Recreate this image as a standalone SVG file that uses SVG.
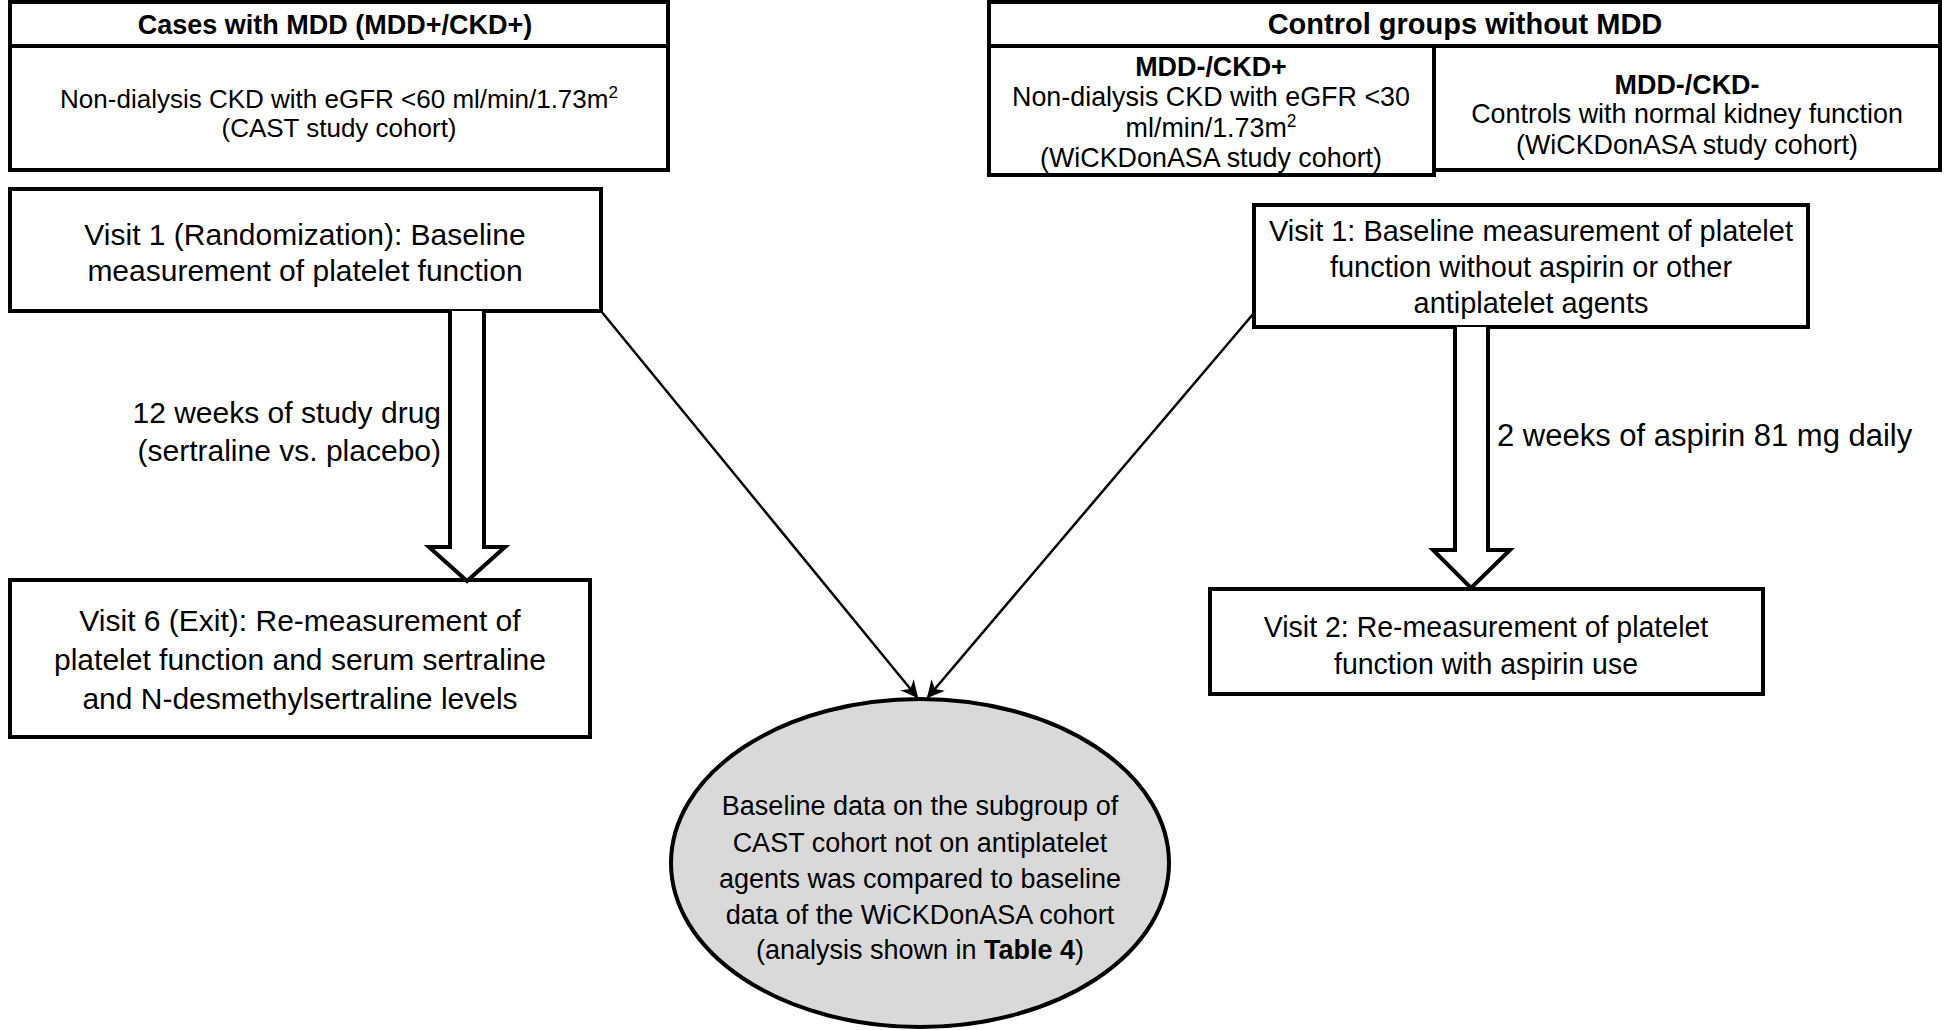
<svg xmlns="http://www.w3.org/2000/svg" width="1950" height="1030" viewBox="0 0 1950 1030">
<defs>
<style>
.box{fill:#fff;stroke:#000;stroke-width:4}
.t{font-family:"Liberation Sans",Arial,sans-serif;fill:#000;text-anchor:middle}
.hd{font-weight:bold}
.b{font-weight:bold}
.conn{stroke:#000;stroke-width:2.5;fill:none}
.dbl{fill:#fff;stroke:#000;stroke-width:4;stroke-linejoin:miter}
</style>
<marker id="ah" viewBox="0 0 10 10" refX="9" refY="5" markerWidth="7" markerHeight="7" markerUnits="strokeWidth" orient="auto">
<path d="M0,0 L10,5 L0,10 L3,5 z" fill="#000"/>
</marker>
</defs>
<rect width="1950" height="1030" fill="#fff"/>

<g id="cases">
<rect class="box" x="10" y="2" width="658" height="168"/>
<line x1="10" y1="46" x2="668" y2="46" stroke="#000" stroke-width="4"/>
<text class="t hd" x="335" y="34" font-size="27">Cases with MDD (MDD+/CKD+)</text>
<text class="t" x="339" y="108" font-size="26">Non-dialysis CKD with eGFR &lt;60 ml/min/1.73m<tspan font-size="17" dy="-10">2</tspan></text>
<text class="t" x="339" y="137" font-size="26">(CAST study cohort)</text>
</g>

<g id="controls">
<rect class="box" x="989" y="2" width="951" height="44"/>
<text class="t hd" x="1465" y="34" font-size="29">Control groups without MDD</text>
</g>

<g id="mdd-ckd-plus">
<rect class="box" x="989" y="46" width="445" height="129"/>
<g transform="translate(1211,0) scale(0.96,1)">
<text class="t b" x="0" y="76" font-size="28">MDD-/CKD+</text>
<text class="t" x="0" y="106" font-size="28">Non-dialysis CKD with eGFR &lt;30</text>
<text class="t" x="0" y="137" font-size="28">ml/min/1.73m<tspan font-size="18" dy="-10">2</tspan></text>
<text class="t" x="0" y="167" font-size="28">(WiCKDonASA study cohort)</text>
</g>
</g>

<g id="mdd-ckd-minus">
<rect class="box" x="1434" y="46" width="506" height="124"/>
<g transform="translate(1687,0) scale(0.96,1)">
<text class="t b" x="0" y="94" font-size="28">MDD-/CKD-</text>
<text class="t" x="0" y="123" font-size="28">Controls with normal kidney function</text>
<text class="t" x="0" y="154" font-size="28">(WiCKDonASA study cohort)</text>
</g>
</g>

<g id="visit1-left">
<rect class="box" x="10" y="189" width="591" height="122"/>
<text class="t" x="305" y="245" font-size="30">Visit 1 (Randomization): Baseline</text>
<text class="t" x="305" y="281" font-size="30">measurement of platelet function</text>
</g>

<g id="visit1-right">
<rect class="box" x="1254" y="205" width="554" height="122"/>
<g transform="translate(1531,0) scale(0.965,1)">
<text class="t" x="0" y="241" font-size="30">Visit 1: Baseline measurement of platelet</text>
<text class="t" x="0" y="277" font-size="30">function without aspirin or other</text>
<text class="t" x="0" y="313" font-size="30">antiplatelet agents</text>
</g>
</g>

<g id="visit6">
<rect class="box" x="10" y="580" width="580" height="157"/>
<text class="t" x="300" y="631" font-size="30">Visit 6 (Exit): Re-measurement of</text>
<text class="t" x="300" y="670" font-size="30">platelet function and serum sertraline</text>
<text class="t" x="300" y="709" font-size="30">and N-desmethylsertraline levels</text>
</g>

<g id="visit2">
<rect class="box" x="1210" y="589" width="553" height="105"/>
<g transform="translate(1486,0) scale(0.95,1)">
<text class="t" x="0" y="637" font-size="30">Visit 2: Re-measurement of platelet</text>
<text class="t" x="0" y="674" font-size="30">function with aspirin use</text>
</g>
</g>

<g id="comparison">
<ellipse cx="920" cy="863" rx="249" ry="164" fill="#d9d9d9" stroke="#000" stroke-width="4"/>
<text class="t" x="920" y="815" font-size="27">Baseline data on the subgroup of</text>
<text class="t" x="920" y="852" font-size="27">CAST cohort not on antiplatelet</text>
<text class="t" x="920" y="888" font-size="27">agents was compared to baseline</text>
<text class="t" x="920" y="924" font-size="27">data of the WiCKDonASA cohort</text>
<text class="t" x="920" y="959" font-size="27">(analysis shown in <tspan font-weight="bold">Table 4</tspan>)</text>
</g>

<g id="connectors">
<path class="dbl" d="M450,311 L450,547 L429,547 L467,581 L505,547 L484,547 L484,311"/>
<path class="dbl" d="M1455,327 L1455,550 L1433,550 L1471,588 L1510,550 L1488,550 L1488,327"/>
<line class="conn" x1="601" y1="311" x2="917" y2="697" marker-end="url(#ah)"/>
<line class="conn" x1="1254" y1="313" x2="928" y2="697" marker-end="url(#ah)"/>
<text class="t" x="441" y="423" font-size="30" style="text-anchor:end">12 weeks of study drug</text>
<text class="t" x="441" y="461" font-size="30" style="text-anchor:end">(sertraline vs. placebo)</text>
<text class="t" x="1497" y="446" font-size="31" style="text-anchor:start">2 weeks of aspirin 81 mg daily</text>
</g>
</svg>
